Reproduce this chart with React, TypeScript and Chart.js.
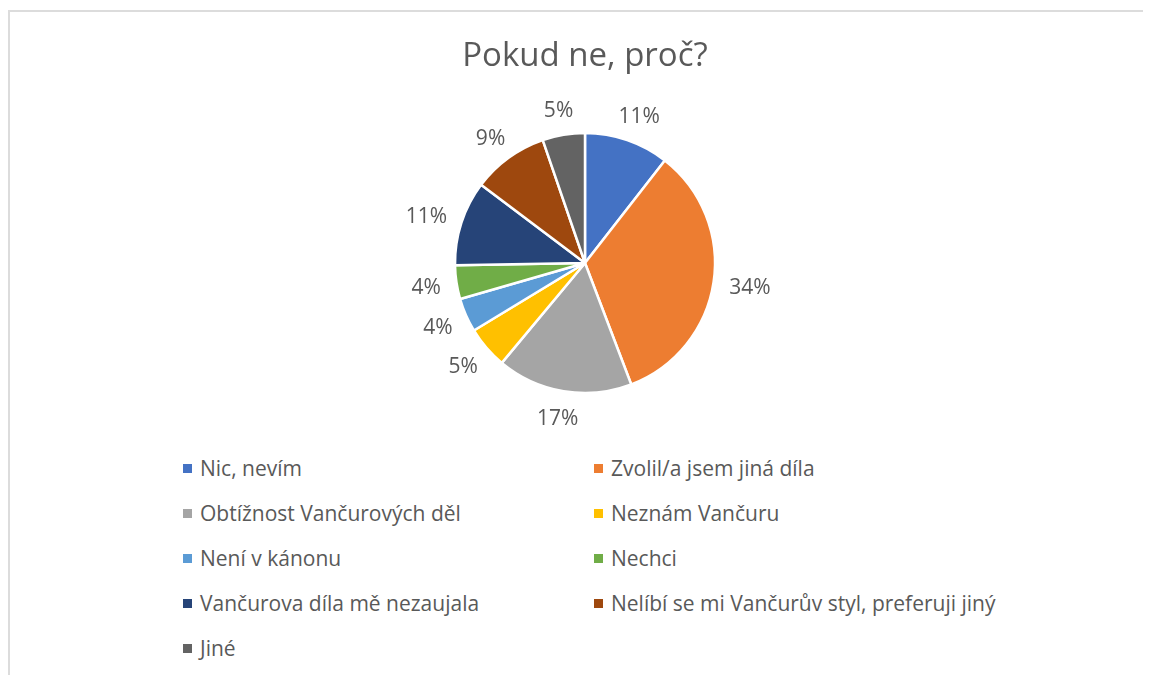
import React, { useEffect, useRef } from "react";
import { Chart, registerables } from "chart.js";

Chart.register(...registerables);

const categories = [
  "Nic, nevím",
  "Zvolil/a jsem jiná díla",
  "Obtížnost Vančurových děl",
  "Neznám Vančuru",
  "Není v kánonu",
  "Nechci",
  "Vančurova díla mě nezaujala",
  "Nelíbí se mi Vančurův styl, preferuji jiný",
  "Jiné",
];
// response counts (shares shown as rounded percentages)
const values = [10, 32, 16, 5, 4, 4, 10, 9, 5];
const colors = [
  "#4472C4",
  "#ED7D31",
  "#A5A5A5",
  "#FFC000",
  "#5B9BD5",
  "#70AD47",
  "#264478",
  "#9E480E",
  "#636363",
];
const title = "Pokud ne, proč?";

const FONT = "'Open Sans', sans-serif";
const TEXT = "#595959";
const LABEL_SIZE = 21;

const labelPlugin = {
  id: "outLabels",
  afterDatasetsDraw(chart: any) {
    const ctx = chart.ctx;
    const meta = chart.getDatasetMeta(0);
    const data = chart.data.datasets[0].data as number[];
    const total = data.reduce((a, b) => a + b, 0);
    ctx.save();
    ctx.font = `${LABEL_SIZE}px ${FONT}`;
    ctx.fillStyle = TEXT;
    ctx.textAlign = "center";
    ctx.textBaseline = "middle";
    meta.data.forEach((arc: any, i: number) => {
      const { x, y, startAngle, endAngle, outerRadius } = arc.getProps(
        ["x", "y", "startAngle", "endAngle", "outerRadius"],
        true
      );
      const mid = (startAngle + endAngle) / 2;
      const txt = Math.round((data[i] / total) * 100) + "%";
      const w = ctx.measureText(txt).width;
      const h = LABEL_SIZE * 0.95;
      const R = outerRadius + 16;
      const c = Math.cos(mid);
      const s = Math.sin(mid);
      ctx.fillText(txt, x + c * R + (c * w) / 2, y + 2 + s * R + (s * h) / 2);
    });
    ctx.restore();
  },
};

export default function App() {
  const ref = useRef<HTMLCanvasElement>(null);
  useEffect(() => {
    if (!ref.current) return;
    const chart = new Chart(ref.current, {
      type: "pie",
      data: {
        labels: categories,
        datasets: [
          {
            data: values,
            backgroundColor: colors,
            borderColor: "#ffffff",
            borderWidth: 2.5,
          },
        ],
      },
      options: {
        animation: false,
        responsive: false,
        radius: 130,
        layout: { padding: { left: 11, right: 0, top: 0, bottom: 10.6 } },
        plugins: {
          legend: { display: false },
          tooltip: { enabled: false },
          title: {
            display: true,
            text: title,
            color: TEXT,
            font: { family: FONT, size: 33, weight: "normal", lineHeight: 1.2 },
            padding: { top: 27, bottom: 10 },
          },
        },
      } as any,
      plugins: [labelPlugin],
    });
    return () => chart.destroy();
  }, []);

  return (
    <div
      style={{
        position: "relative",
        width: 1135,
        height: 667,
        fontFamily: FONT,
      }}
    >
      <div
        style={{
          position: "absolute",
          left: 0,
          top: 2,
          width: 1141,
          height: 665,
          borderTop: "2px solid #dcdcdc",
          borderLeft: "2px solid #dcdcdc",
        }}
      />
      <canvas
        ref={ref}
        width={1143}
        height={440}
        style={{ position: "absolute", left: 0, top: 2, width: 1143, height: 440 }}
      />
      {categories.map((c, i) => {
        const col = i % 2;
        const row = Math.floor(i / 2);
        const left = col === 0 ? 175 : 586;
        const cy = 460 + row * 45;
        return (
          <div
            key={c}
            style={{
              position: "absolute",
              left,
              top: cy - 15,
              height: 30,
              display: "flex",
              alignItems: "center",
              whiteSpace: "nowrap",
              color: TEXT,
              fontSize: 21,
            }}
          >
            <span
              style={{
                display: "inline-block",
                width: 9,
                height: 9,
                background: colors[i],
                marginRight: 8,
              }}
            />
            <span>{c}</span>
          </div>
        );
      })}
    </div>
  );
}
